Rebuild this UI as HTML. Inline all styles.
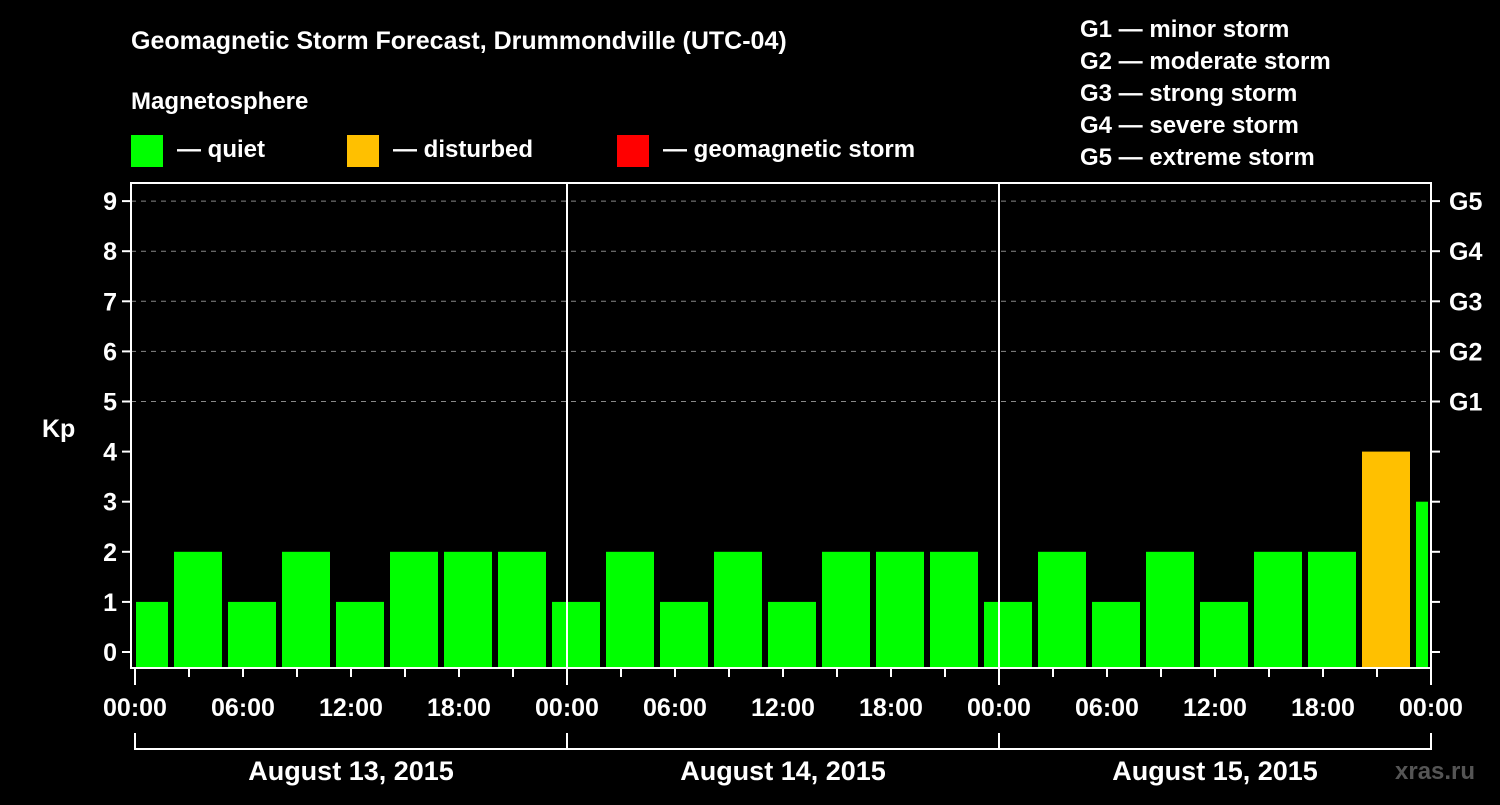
<!DOCTYPE html>
<html><head><meta charset="utf-8"><style>
body{margin:0;background:#000;width:1500px;height:800px;overflow:hidden}
svg text{font-family:"Liberation Sans",Arial,sans-serif;font-weight:bold;fill:#fff}
</style></head><body>
<svg id="chart" width="1500" height="800" xmlns="http://www.w3.org/2000/svg">
<text x="131" y="49" font-size="25">Geomagnetic Storm Forecast, Drummondville (UTC-04)</text>
<text x="131" y="109" font-size="24">Magnetosphere</text>
<g>
<rect x="131" y="135" width="32" height="32" fill="#00ff00"/>
<text x="177" y="157" font-size="24">— quiet</text>
<rect x="347" y="135" width="32" height="32" fill="#ffc000"/>
<text x="393" y="157" font-size="24">— disturbed</text>
<rect x="617" y="135" width="32" height="32" fill="#ff0000"/>
<text x="663" y="157" font-size="24">— geomagnetic storm</text>
</g>
<g font-size="24">
<text x="1080" y="37">G1 — minor storm</text>
<text x="1080" y="69">G2 — moderate storm</text>
<text x="1080" y="101">G3 — strong storm</text>
<text x="1080" y="133">G4 — severe storm</text>
<text x="1080" y="165">G5 — extreme storm</text>
</g>
<text x="42" y="437" font-size="25">Kp</text>
<g id="grid"></g><g id="bars"></g><g id="axes"></g>
<text x="1395" y="779" font-size="24" style="fill:#555">xras.ru</text>
</svg>
<script>
const kpValues=[1,2,1,2,1,2,2,2,1,2,1,2,1,2,2,2,1,2,1,2,1,2,2,4,3];
const yTicks=[0,1,2,3,4,5,6,7,8,9];
const gLabels=["G1","G2","G3","G4","G5"];
const xTickLabels=["00:00","06:00","12:00","18:00","00:00","06:00","12:00","18:00","00:00","06:00","12:00","18:00","00:00"];
const dayLabels=["August 13, 2015","August 14, 2015","August 15, 2015"];
const NS="http://www.w3.org/2000/svg";
const L=131,R=1431,T=183,B=668,X0=135,PXH=18; // px per hour
const y=v=>652-v*50.1;
const xh=h=>X0+h*PXH;
function mk(tag,attrs,parent){const e=document.createElementNS(NS,tag);for(const k in attrs)e.setAttribute(k,attrs[k]);document.getElementById(parent).appendChild(e);return e;}
yTicks.forEach(v=>{
 if(v>=5){const g=mk('line',{x1:L,x2:R,y1:y(v),y2:y(v),stroke:'#888','stroke-dasharray':'5,5','stroke-width':1},'grid');
 }
 const t=mk('line',{x1:L-9,x2:L,y1:y(v),y2:y(v),stroke:'#fff','stroke-width':2},'axes');
 
 const t2=mk('line',{x1:R,x2:R+9,y1:y(v),y2:y(v),stroke:'#fff','stroke-width':2},'axes');
 
 const lb=mk('text',{x:L-14,y:y(v)+9,'font-size':25,'text-anchor':'end'},'axes');lb.textContent=v;
 
});
gLabels.forEach((g,i)=>{const lb=mk('text',{x:R+18,y:y(i+5)+9,'font-size':25},'axes');lb.textContent=g;
 });
kpValues.forEach((v,i)=>{
 const c=xh(i*3+0.5);let x1=Math.max(c-24,L+5),x2=Math.min(c+24,R-3);
 const col=v>=5?'#ff0000':(v>=4?'#ffc000':'#00ff00');
 const r=mk('rect',{x:x1,y:y(v),width:x2-x1,height:B-y(v),fill:col},'bars');
 
});
[1,2].forEach(d=>{const l=mk('line',{x1:xh(d*24),x2:xh(d*24),y1:T,y2:B,stroke:'#fff','stroke-width':2},'axes');
 });
const fr=mk('rect',{x:L,y:T,width:R-L,height:B-T,fill:'none',stroke:'#fff','stroke-width':2},'axes');

for(let h=0;h<=72;h+=3){const major=h%6===0;
 const t=mk('line',{x1:xh(h),x2:xh(h),y1:B,y2:B+(h%24===0?17:9),stroke:'#fff','stroke-width':2},'axes');
 }
xTickLabels.forEach((s,i)=>{const t=mk('text',{x:xh(i*6),y:716,'font-size':25,'text-anchor':'middle'},'axes');t.textContent=s;
 });
const br=mk('path',{d:`M${xh(0)} 733V749H${xh(72)}V733M${xh(24)} 733V749M${xh(48)} 733V749`,fill:'none',stroke:'#fff','stroke-width':2},'axes');

dayLabels.forEach((s,i)=>{const t=mk('text',{x:xh(i*24+12),y:780,'font-size':27,'text-anchor':'middle'},'axes');t.textContent=s;
 });
</script>
</body></html>
